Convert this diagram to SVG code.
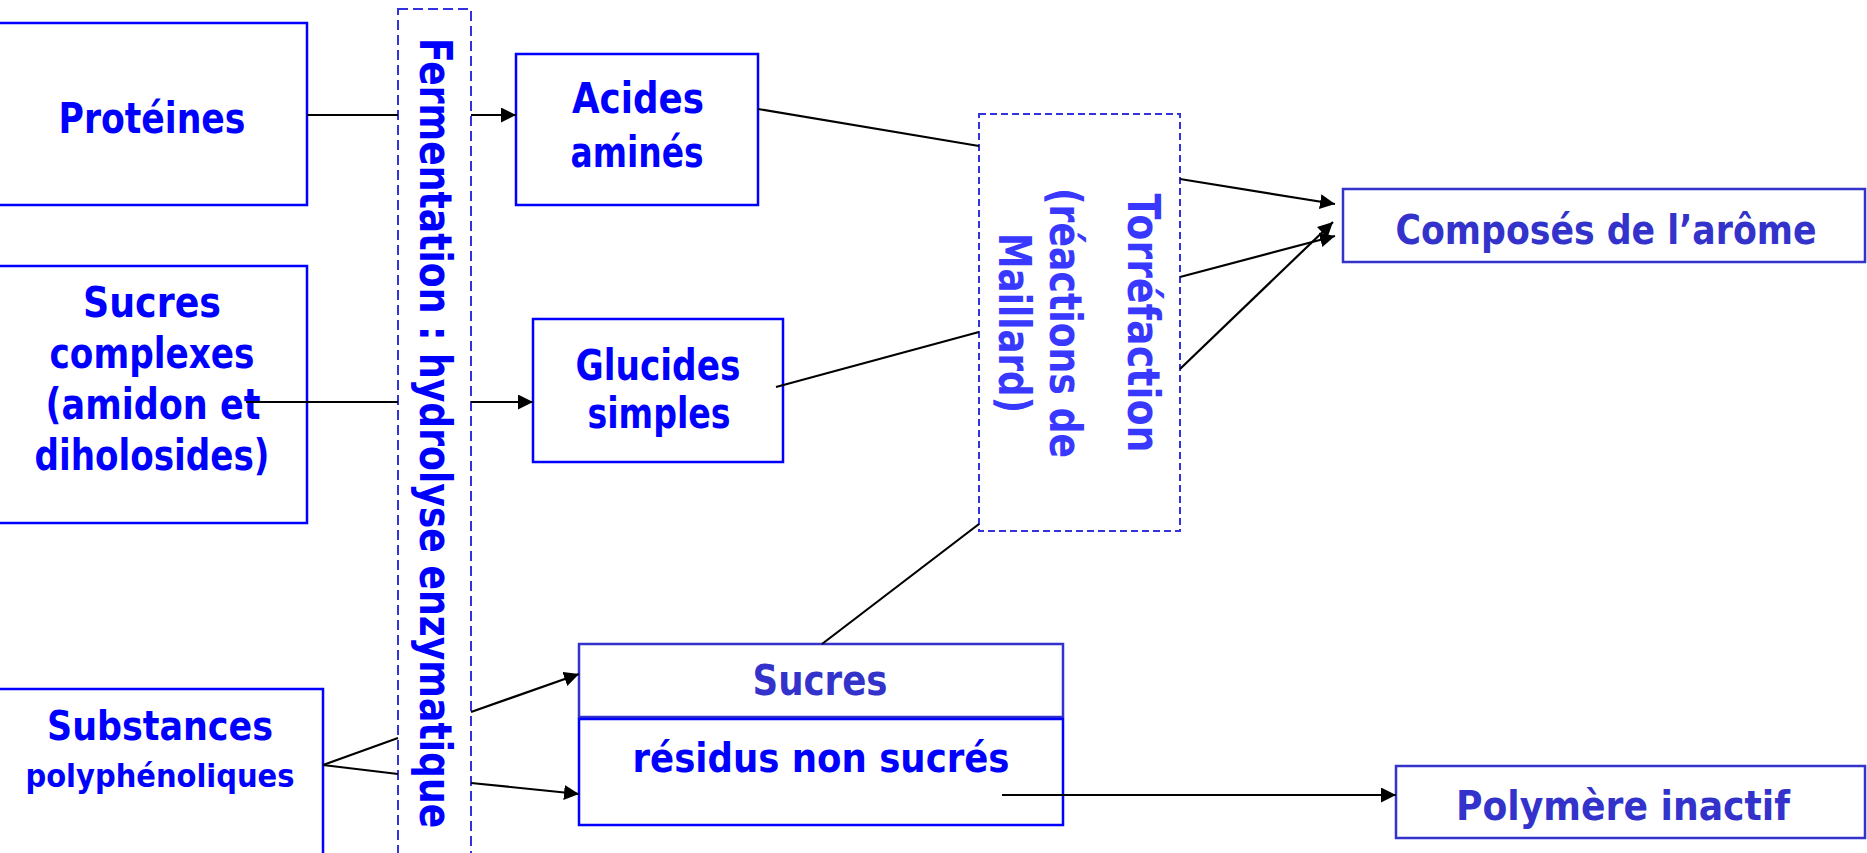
<svg xmlns="http://www.w3.org/2000/svg" width="1867" height="853" viewBox="0 0 1867 853">
<style>
.t{font-family:"DejaVu Sans","Liberation Sans",sans-serif;font-weight:bold;text-anchor:middle}
.b1{fill:#fff;stroke:#0000ff;stroke-width:2.5}
.b2{fill:#fff;stroke:#3333cc;stroke-width:2.5}
.d1{fill:none;stroke:#3333dd;stroke-width:2;stroke-dasharray:10 5}
.d2{fill:none;stroke:#3333dd;stroke-width:2;stroke-dasharray:7 4}
.c1{fill:#0000ff}
.c2{fill:#3333cc}
.c3{fill:#3838ff}
.ln{fill:none;stroke:#000;stroke-width:2.2}
.ar{fill:none;stroke:#000;stroke-width:2.2;marker-end:url(#ah)}
</style>
<defs>
<marker id="ah" markerUnits="userSpaceOnUse" markerWidth="16" markerHeight="16" refX="15" refY="7.5" orient="auto">
<path d="M0,0 L15,7.5 L0,15 z" fill="#000"/>
</marker>
</defs>
<rect width="1867" height="853" fill="#fff"/>

<g id="fermentation">
<rect class="d1" x="398" y="9" width="73" height="860"/>
<text class="t c1" font-size="44" transform="translate(420,38) rotate(90) scale(0.824,1)" x="0" y="0" style="text-anchor:start" textLength="959" lengthAdjust="spacingAndGlyphs">Fermentation : hydrolyse enzymatique</text>
</g>

<g id="torrefaction">
<rect class="d2" x="979" y="114" width="201" height="417"/>
<g transform="translate(0,323)">
<text class="t c3" font-size="44" transform="translate(1128,0) rotate(90)" textLength="259" lengthAdjust="spacingAndGlyphs">Torréfaction</text>
<text class="t c3" font-size="44" transform="translate(1050,0) rotate(90)" textLength="270" lengthAdjust="spacingAndGlyphs">(réactions de</text>
<text class="t c3" font-size="44" transform="translate(999,0) rotate(90)" textLength="180" lengthAdjust="spacingAndGlyphs">Maillard)</text>
</g>
</g>

<g id="proteines">
<rect class="b1" x="-3" y="23" width="310" height="182"/>
<text class="t c1" font-size="42" x="152" y="133" textLength="187" lengthAdjust="spacingAndGlyphs">Protéines</text>
</g>

<g id="sucres-complexes">
<rect class="b1" x="-3" y="266" width="310" height="257"/>
<text class="t c1" font-size="42" x="152" y="317" textLength="138" lengthAdjust="spacingAndGlyphs">Sucres</text>
<text class="t c1" font-size="42" x="152" y="368" textLength="205" lengthAdjust="spacingAndGlyphs">complexes</text>
<text class="t c1" font-size="42" x="153" y="419" textLength="215" lengthAdjust="spacingAndGlyphs">(amidon et</text>
<text class="t c1" font-size="42" x="152" y="470" textLength="235" lengthAdjust="spacingAndGlyphs">diholosides)</text>
</g>

<g id="substances">
<rect class="b1" x="-3" y="689" width="326" height="175"/>
<text class="t c1" font-size="40" x="160" y="740" textLength="226" lengthAdjust="spacingAndGlyphs">Substances</text>
<text class="t c1" font-size="32" x="160" y="787" textLength="269" lengthAdjust="spacingAndGlyphs">polyphénoliques</text>
</g>

<g id="acides-amines">
<rect class="b1" x="516" y="54" width="242" height="151"/>
<text class="t c1" font-size="42" x="638" y="113" textLength="132" lengthAdjust="spacingAndGlyphs">Acides</text>
<text class="t c1" font-size="42" x="637" y="167" textLength="133" lengthAdjust="spacingAndGlyphs">aminés</text>
</g>

<g id="glucides-simples">
<rect class="b1" x="533" y="319" width="250" height="143"/>
<text class="t c1" font-size="42" x="658" y="380" textLength="165" lengthAdjust="spacingAndGlyphs">Glucides</text>
<text class="t c1" font-size="42" x="659" y="428" textLength="143" lengthAdjust="spacingAndGlyphs">simples</text>
</g>

<g id="sucres">
<rect class="b2" x="579" y="644" width="484" height="73"/>
<text class="t c2" font-size="42" x="820" y="695" textLength="135" lengthAdjust="spacingAndGlyphs">Sucres</text>
</g>

<g id="residus">
<rect class="b1" x="579" y="719" width="484" height="106"/>
<text class="t c1" font-size="40" x="821" y="772" textLength="377" lengthAdjust="spacingAndGlyphs">résidus non sucrés</text>
</g>

<g id="composes">
<rect class="b2" x="1343" y="189" width="522" height="73"/>
<text class="t c2" font-size="40" transform="translate(1606,244) scale(0.868,1)" x="0" y="0" textLength="485" lengthAdjust="spacingAndGlyphs">Composés de l’arôme</text>
</g>

<g id="polymere">
<rect class="b2" x="1396" y="766" width="469" height="72"/>
<text class="t c2" font-size="40" x="1623" y="820" textLength="334" lengthAdjust="spacingAndGlyphs">Polymère inactif</text>
</g>

<g id="connectors">
<line class="ln" x1="307" y1="115" x2="398" y2="115"/>
<line class="ar" x1="471" y1="115" x2="516" y2="115"/>
<line class="ln" x1="246" y1="402" x2="398" y2="402"/>
<line class="ar" x1="471" y1="402" x2="533" y2="402"/>
<line class="ln" x1="323" y1="765" x2="398" y2="738"/>
<line class="ln" x1="323" y1="765" x2="398" y2="774"/>
<line class="ar" x1="471" y1="712" x2="579" y2="674"/>
<line class="ar" x1="471" y1="783" x2="579" y2="794"/>
<line class="ln" x1="758" y1="109" x2="979" y2="146"/>
<line class="ln" x1="776" y1="387" x2="979" y2="332"/>
<line class="ln" x1="979" y1="524" x2="822" y2="644"/>
<line class="ar" x1="1180" y1="179" x2="1335" y2="204"/>
<line class="ar" x1="1180" y1="277" x2="1335" y2="236"/>
<line class="ar" x1="1180" y1="369" x2="1333" y2="222"/>
<line class="ar" x1="1002" y1="795" x2="1396" y2="795"/>
</g>
</svg>
